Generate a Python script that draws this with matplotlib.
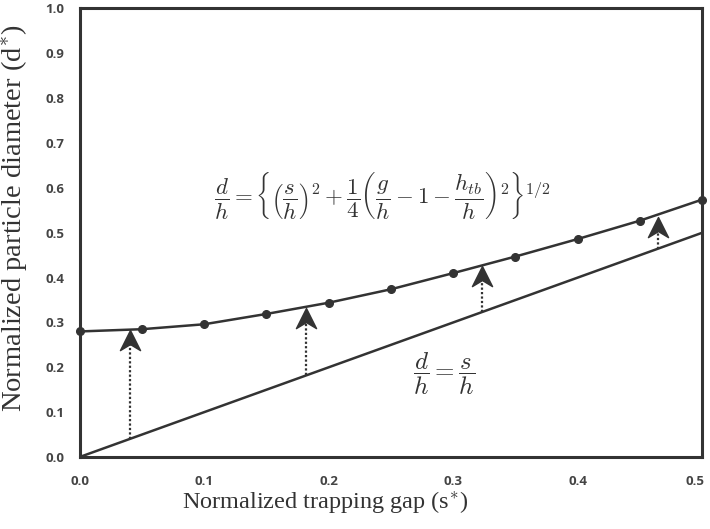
import numpy as np
import matplotlib
matplotlib.use("Agg")
import matplotlib.pyplot as plt
import matplotlib.transforms as mtransforms
from matplotlib.path import Path

# data
s_gap = [0.0, 0.05, 0.1, 0.15, 0.2, 0.25, 0.3, 0.35, 0.4, 0.45, 0.5]
d_diam = [0.280, 0.285, 0.296, 0.319, 0.344, 0.374, 0.410, 0.447, 0.486, 0.527, 0.574]
s_line = [0.0, 0.5]
d_line = [0.0, 0.5]
arrow_s = [0.0406, 0.182, 0.3235, 0.4644]
arrow_tip = [0.283, 0.332, 0.425, 0.536]
x_ticks = [0.0, 0.1, 0.2, 0.3, 0.4, 0.5]
y_ticks = [0.0, 0.1, 0.2, 0.3, 0.4, 0.5, 0.6, 0.7, 0.8, 0.9, 1.0]

plt.rcParams['mathtext.fontset'] = 'cm'
ink = '#333333'

fig = plt.figure(figsize=(7.10, 5.29), dpi=100)
ax = fig.add_axes([0.112, 0.136, 0.877, 0.848])

ax.plot(s_line, d_line, color=ink, lw=1.8, solid_capstyle='butt')
ax.plot(s_gap, d_diam, color=ink, lw=1.8, marker='o', ms=5.5, clip_on=False, zorder=3)

# notched arrow head, tip at origin
head = Path([(0, 0), (-0.5, -1), (0, -0.7), (0.5, -1), (0, 0)],
            [Path.MOVETO, Path.LINETO, Path.LINETO, Path.LINETO, Path.CLOSEPOLY])
for xs, yt in zip(arrow_s, arrow_tip):
    ax.plot([xs, xs], [xs, yt - 0.02], color=ink, lw=1.6, linestyle=(0, (1, 1)),
            dash_capstyle='butt')
    ax.plot([xs], [yt], marker=head, ms=29, color=ink, mec=ink, lw=0, zorder=4)

ax.text(0.243, 0.58,
        r'$\dfrac{d}{h}=\left\{\left(\dfrac{s}{h}\right)^2+\dfrac{1}{4}\left(\dfrac{g}{h}-1-\dfrac{h_{tb}}{h}\right)^2\right\}^{1/2}$',
        fontsize=16.5, color=ink, ha='center', va='center')
ax.text(0.293, 0.185, r'$\dfrac{d}{h}=\dfrac{s}{h}$', fontsize=18, color=ink,
        ha='center', va='center')

ax.set_xlim(0, 0.5)
ax.set_ylim(0, 1.0)
ax.set_xticks(x_ticks)
ax.set_yticks(y_ticks)
ax.set_xticklabels([f'{v:.1f}' for v in x_ticks])
ax.set_yticklabels([f'{v:.1f}' for v in y_ticks])
ax.tick_params(length=0, labelsize=9.5, labelcolor='#444444')
ax.tick_params(axis='x', pad=13)
ax.tick_params(axis='y', pad=11)
for lab in ax.get_xticklabels() + ax.get_yticklabels():
    lab.set_fontweight('bold')
    lab.set_family('Open Sans')
# keep the last x label inside the canvas
last = ax.get_xticklabels()[-1]
last.set_transform(last.get_transform() +
                   mtransforms.ScaledTranslation(-5 / 72, 0, fig.dpi_scale_trans))

for sp in ax.spines.values():
    sp.set_color(ink)
    sp.set_linewidth(2.2)

ax.set_xlabel(r'Normalized trapping gap (s$^{*}$)', family='Liberation Serif',
              fontsize=17.5, color='#333333')
ax.xaxis.set_label_coords(0.394, -0.071)
ax.set_ylabel(r'Normalized particle diameter (d$^{*}$)', family='Liberation Serif',
              fontsize=20.5, color='#333333')
ax.yaxis.set_label_coords(-0.078, 0.533)

fig.savefig('out.png', dpi=100)
